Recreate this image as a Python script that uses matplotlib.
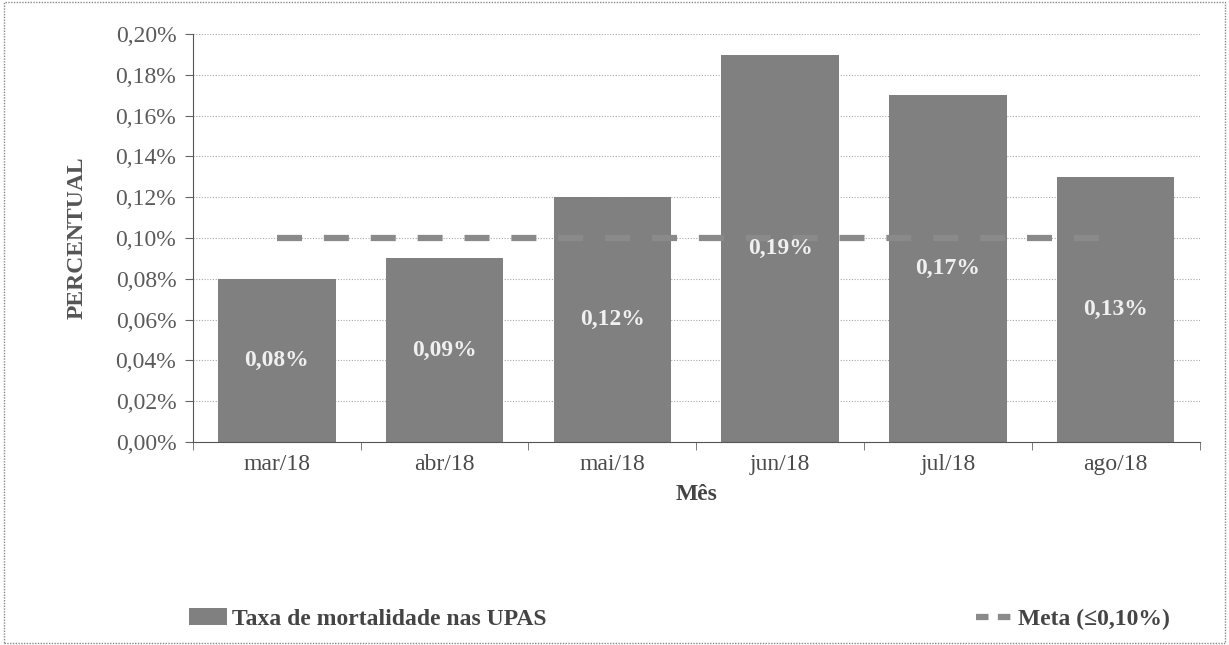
import matplotlib
matplotlib.use("Agg")
import matplotlib.pyplot as plt
from matplotlib.patches import Patch
from matplotlib.lines import Line2D
from matplotlib.ticker import FuncFormatter, MultipleLocator
import numpy as np

months = ["mar/18", "abr/18", "mai/18", "jun/18", "jul/18", "ago/18"]
rates = [0.08, 0.09, 0.12, 0.19, 0.17, 0.13]
meta = [0.10, 0.10, 0.10, 0.10, 0.10, 0.10]
bar_labels = ["0,08%", "0,09%", "0,12%", "0,19%", "0,17%", "0,13%"]

plt.rcParams['font.family'] = ['Liberation Serif', 'DejaVu Serif']

fig = plt.figure(figsize=(12.29, 6.45), dpi=100)
ax = fig.add_axes([0.157, 0.315, 0.819, 0.632])

x = np.arange(len(months))
bar_color = "#808080"
ax.bar(x, rates, width=0.7, color=bar_color, zorder=2)
ax.plot(x, meta, color="#8a8a8a", lw=4.5, dashes=(4, 3.5), zorder=3)

for xi, v, lab in zip(x, rates, bar_labels):
    ax.text(xi, v / 2, lab, ha="center", va="center",
            color="#f0f0f0", fontsize=17, fontweight="bold", zorder=4)

ax.set_xlim(-0.5, len(months) - 0.5)
ax.set_ylim(0, 0.20)
ax.yaxis.set_major_locator(MultipleLocator(0.02))
ax.yaxis.set_major_formatter(FuncFormatter(lambda v, p: f"{v:.2f}%".replace(".", ",")))
ax.grid(axis="y", color="#a8a8a8", linestyle=(0, (1, 1.5)), lw=0.8, zorder=0)
ax.set_xticks(x)
ax.set_xticklabels(months)
ax.set_xticks(np.arange(-0.5, len(months), 1), minor=True)
ax.tick_params(axis="x", which="major", length=0, pad=9, labelsize=17, labelcolor="#4a4a4a")
ax.tick_params(axis="x", which="minor", length=6, color="#666666")
ax.tick_params(axis="y", length=6, pad=6, labelsize=17, labelcolor="#5a5a5a", color="#666666")
for s in ["top", "right"]:
    ax.spines[s].set_visible(False)
for s in ["left", "bottom"]:
    ax.spines[s].set_color("#555555")

ax.set_xlabel("Mês", fontsize=17, fontweight="bold", color="#444444", labelpad=6)
ax.set_ylabel("PERCENTUAL", fontsize=17, fontweight="bold", color="#555555", labelpad=20)

handles = [Patch(facecolor=bar_color, label="Taxa de mortalidade nas UPAS"),
           Line2D([0], [0], color="#8a8a8a", lw=4.5, dashes=(2, 1.5), label="Meta (≤0,10%)")]
fig.legend(handles=handles, loc="center", bbox_to_anchor=(0.553, 0.04), ncol=2,
           frameon=False, prop={"size": 17, "weight": "bold"}, columnspacing=18.2,
           handlelength=1.6, handletextpad=0.2, labelcolor="#444444")

border = plt.Rectangle((0.003, 0.003), 0.994, 0.994, transform=fig.transFigure,
                       fill=False, ec="#888888", lw=1.0, ls=(0, (1, 1)))
fig.patches.append(border)

fig.savefig("out.png", dpi=100)
